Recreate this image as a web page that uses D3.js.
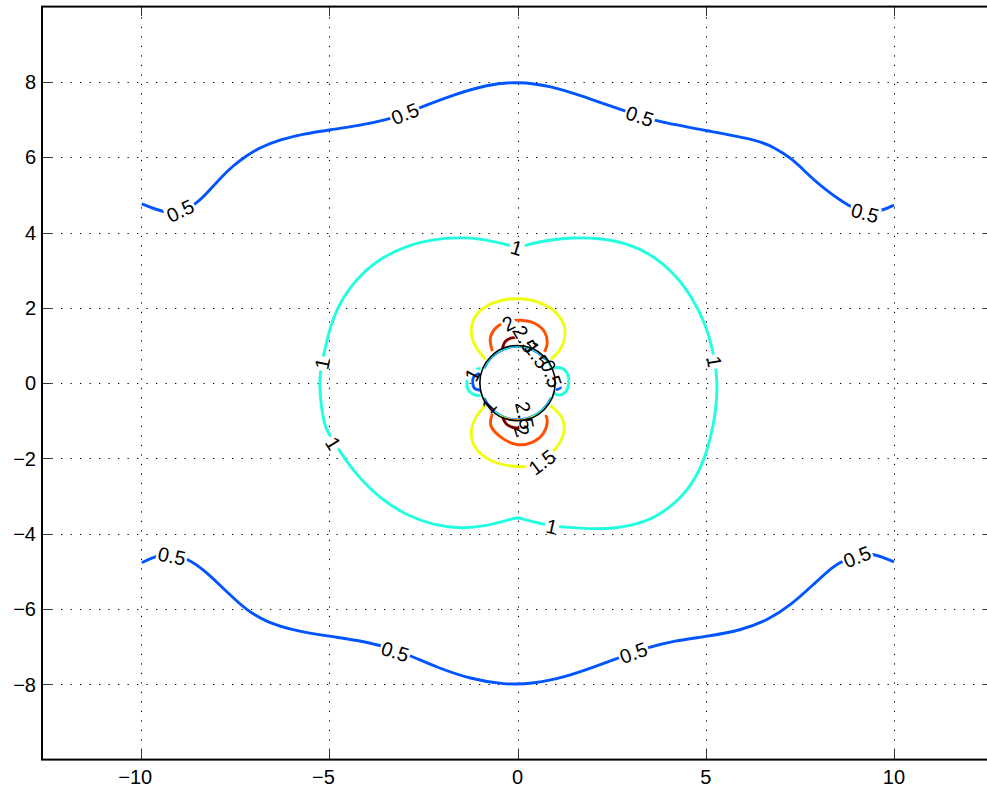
<!DOCTYPE html>
<html>
<head>
<meta charset="utf-8">
<script src="https://cdn.jsdelivr.net/npm/d3@7"></script>
<style>
  html, body { margin: 0; padding: 0; background: #fff; }
  svg { display: block; font-family: "Liberation Sans", Arial, Helvetica, sans-serif; }
</style>
</head>
<body>
<svg id="chart" width="987" height="792"></svg>
<script>
// ---- axis ticks ----
const xTicks = [-10, -5, 0, 5, 10];
const yTicks = [-8, -6, -4, -2, 0, 2, 4, 6, 8];
const xLimits = [-12.63, 12.63];
const yLimits = [-10, 10];

// ---- contour levels and their colours (jet map, 0 .. 2.5) ----
const levels = [0.5, 1, 1.5, 2, 2.5];
const levelColors = ["#0055ff", "#20ffdf", "#efff10", "#ff5000", "#800000"];

// ---- contour lines, [x, y] in data units ----
const c05Top = [[-9.98,4.76],[-9.36,4.51],[-8.96,4.55],[-8.56,4.74],[-8.25,5.04],[-7.90,5.44],[-7.55,5.78],[-7.20,6.04],[-6.84,6.26],[-6.30,6.47],[-5.68,6.62],[-4.97,6.73],[-4.18,6.84],[-3.42,7.01],[-3.00,7.15],[-2.58,7.32],[-1.69,7.66],[-0.81,7.93],[0,8.01],[0.88,7.90],[1.76,7.61],[2.87,7.22],[3.28,7.08],[3.72,6.95],[5.04,6.70],[6.37,6.46],[6.82,6.26],[7.26,5.98],[7.60,5.66],[8.06,5.22],[8.86,4.65],[9.25,4.54],[9.65,4.56],[10.0,4.73]];
const c05Bottom = [[-9.98,-4.77],[-9.58,-4.57],[-9.18,-4.56],[-8.78,-4.64],[-8.25,-5.02],[-7.72,-5.55],[-7.19,-6.04],[-6.66,-6.35],[-5.95,-6.57],[-4.97,-6.73],[-4.18,-6.84],[-3.64,-6.97],[-3.22,-7.10],[-2.80,-7.26],[-2.14,-7.55],[-1.25,-7.86],[-0.36,-8.01],[0.43,-7.99],[1.32,-7.79],[2.03,-7.54],[2.65,-7.31],[3.06,-7.17],[3.45,-7.03],[4.16,-6.84],[5.04,-6.73],[5.93,-6.57],[6.64,-6.30],[7.26,-5.90],[7.88,-5.33],[8.41,-4.84],[8.68,-4.71],[9.04,-4.57],[9.43,-4.51],[10.0,-4.75]];
const c10Outer = [[0,3.60],[0.17,3.65],[0.74,3.79],[1.45,3.87],[2.16,3.85],[2.87,3.73],[3.58,3.41],[4.20,2.88],[4.65,2.26],[5.00,1.55],[5.18,0.92],[5.28,0.30],[5.31,-0.05],[5.27,-0.76],[5.13,-1.47],[4.91,-2.18],[4.56,-2.81],[4.02,-3.34],[3.40,-3.70],[2.61,-3.87],[1.81,-3.87],[0.92,-3.80],[0.57,-3.72],[0.12,-3.61],[0,-3.56],[-0.27,-3.64],[-0.81,-3.79],[-1.52,-3.87],[-2.23,-3.77],[-2.93,-3.52],[-3.64,-3.08],[-4.26,-2.46],[-4.71,-1.83],[-4.95,-1.45],[-5.11,-1.20],[-5.22,-0.59],[-5.26,-0.05],[-5.24,0.30],[-5.15,0.74],[-4.97,1.55],[-4.66,2.26],[-4.18,2.88],[-3.56,3.37],[-2.85,3.68],[-2.23,3.82],[-1.60,3.87],[-0.98,3.84],[-0.27,3.68]];
const c10LeftLoop = [[-0.98,0.39],[-1.25,0.30],[-1.34,0.08],[-1.30,-0.19],[-1.12,-0.32],[-0.98,-0.32]];
const c10RightLoop = [[0.97,0.39],[1.14,0.41],[1.32,0.26],[1.36,0],[1.28,-0.23],[1.10,-0.32],[0.97,-0.27]];
const c05LeftLoop = [[-1.01,0.26],[-1.16,0.17],[-1.19,0],[-1.14,-0.14],[-1.0,-0.19]];
const c05RightLoop = [[1.02,0.05],[1.13,-0.02],[1.12,-0.14],[1.02,-0.17]];
const c15Top = [[-0.85,0.63],[-1.16,1.06],[-1.23,1.45],[-1.10,1.80],[-0.81,2.05],[-0.40,2.20],[0.02,2.24],[0.52,2.16],[0.97,1.92],[1.23,1.55],[1.24,1.15],[1.10,0.85],[0.88,0.63]];
const c15Bottom = [[-0.85,-0.59],[-1.12,-0.94],[-1.23,-1.38],[-1.07,-1.78],[-0.63,-2.09],[-0.10,-2.21],[0.24,-2.21],[0.60,-2.05],[1.01,-1.74],[1.23,-1.29],[1.19,-0.94],[0.88,-0.59]];
const c20Top = [[-0.67,0.85],[-0.72,1.20],[-0.56,1.48],[-0.25,1.64],[0.08,1.67],[0.45,1.59],[0.72,1.36],[0.79,1.08],[0.72,0.83]];
const c20Bottom = [[-0.67,-0.81],[-0.71,-1.12],[-0.46,-1.42],[-0.02,-1.63],[0.42,-1.56],[0.69,-1.33],[0.79,-1.03],[0.75,-0.85]];
const c25Top = [[-0.40,0.93],[-0.33,1.10],[-0.15,1.20],[0.07,1.20],[0.30,1.06]];
const c25Bottom = [[-0.40,-0.90],[-0.30,-1.08],[-0.12,-1.18],[0.05,-1.18],[0.22,-1.08]];

// far-field lines are drawn with a smoothing spline, the small ones near the body interpolate their points
const contourLines = [
  { level: 0.5, points: c05Top,       closed: false, smooth: true },
  { level: 0.5, points: c05Bottom,    closed: false, smooth: true },
  { level: 0.5, points: c05LeftLoop,  closed: false },
  { level: 0.5, points: c05RightLoop, closed: false },
  { level: 1,   points: c10Outer,     closed: true,  smooth: true },
  { level: 1,   points: c10LeftLoop,  closed: false },
  { level: 1,   points: c10RightLoop, closed: false },
  { level: 1.5, points: c15Top,       closed: false },
  { level: 1.5, points: c15Bottom,    closed: false },
  { level: 2,   points: c20Top,       closed: false },
  { level: 2,   points: c20Bottom,    closed: false },
  { level: 2.5, points: c25Top,       closed: false },
  { level: 2.5, points: c25Bottom,    closed: false }
];

// thin contour arcs squeezed along the body surface: level, radius, start/end angle (deg)
const arcLevel  = [0.5, 1,    0.5, 1,    1.5,  2];
const arcRadius = [0.955, 0.97, 0.955, 0.97, 0.98, 0.985];
const arcStart  = [24,  22,   204,  202,  240,  250];
const arcEnd    = [156, 158,  336,  338,  300,  290];

// circular body
const bodyRadius = 1;

// contour labels: level, position; rot only where the label sits off its line
const contourLabels = [
  { level: 0.5, x: -8.96, y: 4.58 },
  { level: 0.5, x: -2.99, y: 7.16 },
  { level: 0.5, x: 3.25,  y: 7.09 },
  { level: 0.5, x: 9.23,  y: 4.52 },
  { level: 0.5, x: -9.18, y: -4.59 },
  { level: 0.5, x: -3.25, y: -7.13 },
  { level: 0.5, x: 3.08,  y: -7.16 },
  { level: 0.5, x: 9.02,  y: -4.61 },
  { level: 1,   x: -0.02, y: 3.60 },
  { level: 1,   x: -5.19, y: 0.52 },
  { level: 1,   x: -4.89, y: -1.60 },
  { level: 1,   x: 5.23,  y: 0.57 },
  { level: 1,   x: 0.91,  y: -3.81 },
  { level: 1,   x: -1.20, y: 0.22,  rot: -62 },
  { level: 1,   x: -0.76, y: -0.60, rot: -48 },
  { level: 1.5, x: 0.65,  y: -2.10 },
  { level: 2,   x: -0.24, y: 1.59 },
  { level: 2.5, x: 0.20,  y: 1.17,  rot: 60 },
  { level: 1.5, x: 0.52,  y: 0.75,  rot: 55 },
  { level: 0.5, x: 0.90,  y: 0.25,  rot: 70 },
  { level: 2.5, x: 0.20,  y: -0.86, rot: 78 },
  { level: 2,   x: 0.12,  y: -1.27, rot: 72 }
];

// ---- layout ----
const W = 987, H = 792;
const x = d3.scaleLinear().domain(xLimits).range([42, 993]);
const y = d3.scaleLinear().domain(yLimits).range([759.6, 6.6]);
const fontSize = 20;

const svg = d3.select("#chart");
const defs = svg.append("defs");

defs.append("clipPath").attr("id", "plotClip")
  .append("rect")
  .attr("x", x(xLimits[0])).attr("y", y(yLimits[1]))
  .attr("width", x(xLimits[1]) - x(xLimits[0]))
  .attr("height", y(yLimits[0]) - y(yLimits[1]));

const colorOf = d3.scaleOrdinal().domain(levels).range(levelColors);

// ---- grid ----
const grid = svg.append("g").attr("clip-path", "url(#plotClip)")
  .attr("stroke", "#000").attr("stroke-width", 1).attr("stroke-dasharray", "1.3,8.2");
grid.selectAll("line.gx").data(xTicks).join("line")
  .attr("x1", d => Math.round(x(d)) + 0.5).attr("x2", d => Math.round(x(d)) + 0.5)
  .attr("y1", y(yLimits[0])).attr("y2", y(yLimits[1]));
grid.selectAll("line.gy").data(yTicks).join("line")
  .attr("y1", d => Math.round(y(d)) + 0.5).attr("y2", d => Math.round(y(d)) + 0.5)
  .attr("x1", x(xLimits[0])).attr("x2", x(xLimits[1]));

// ---- masks that open gaps in each level's lines under its labels ----
const masks = {};
levels.forEach((lv, i) => {
  const m = defs.append("mask").attr("id", "gap" + i)
    .attr("maskUnits", "userSpaceOnUse")
    .attr("x", 0).attr("y", 0).attr("width", W + 20).attr("height", H);
  m.append("rect").attr("x", 0).attr("y", 0).attr("width", W + 20).attr("height", H).attr("fill", "#fff");
  masks[lv] = m;
});

// ---- contour lines ----
const plot = svg.append("g").attr("clip-path", "url(#plotClip)");
const makeLine = curve => d3.line().x(d => x(d[0])).y(d => y(d[1])).curve(curve);
const lineSmoothOpen = makeLine(d3.curveBasis);
const lineSmoothClosed = makeLine(d3.curveBasisClosed);
const lineOpen = makeLine(d3.curveCatmullRom.alpha(0.5));
const lineClosed = makeLine(d3.curveCatmullRomClosed.alpha(0.5));

const levelGroups = {};
levels.forEach((lv, i) => {
  levelGroups[lv] = plot.append("g").attr("mask", `url(#gap${i})`)
    .attr("fill", "none").attr("stroke", colorOf(lv))
    .attr("stroke-linejoin", "round").attr("stroke-linecap", "butt");
});

const cx = x(0), cy = y(0);
const rPx = r => x(r) - x(0);

// surface-hugging arcs (thin)
arcLevel.forEach((lv, i) => {
  const p = d3.path();
  p.arc(cx, cy, rPx(arcRadius[i]), -arcStart[i] * Math.PI / 180, -arcEnd[i] * Math.PI / 180, true);
  levelGroups[lv].append("path").attr("d", p.toString()).attr("stroke-width", 1.3);
});

contourLines.forEach(c => {
  const gen = c.smooth ? (c.closed ? lineSmoothClosed : lineSmoothOpen)
                       : (c.closed ? lineClosed : lineOpen);
  levelGroups[c.level].append("path")
    .attr("d", gen(c.points))
    .attr("stroke-width", 2.9);
});

// body outline
plot.append("circle").attr("cx", cx).attr("cy", cy).attr("r", rPx(bodyRadius))
  .attr("fill", "none").attr("stroke", "#000").attr("stroke-width", 1.6);

// ---- contour labels ----
function lineAngle(lbl) {
  const px = x(lbl.x), py = y(lbl.y);
  let best = Infinity, ang = 0;
  contourLines.filter(c => c.level === lbl.level).forEach(c => {
    const pts = c.points.map(d => [x(d[0]), y(d[1])]);
    if (c.closed) pts.push(pts[0]);
    for (let k = 0; k < pts.length - 1; k++) {
      const [ax, ay] = pts[k], [bx, by] = pts[k + 1];
      const dx = bx - ax, dy = by - ay;
      const L2 = dx * dx + dy * dy || 1;
      let t = ((px - ax) * dx + (py - ay) * dy) / L2;
      t = Math.max(0, Math.min(1, t));
      const qx = ax + t * dx - px, qy = ay + t * dy - py;
      const dist = qx * qx + qy * qy;
      if (dist < best) { best = dist; ang = Math.atan2(dy, dx) * 180 / Math.PI; }
    }
  });
  if (ang > 90) ang -= 180;
  if (ang <= -90) ang += 180;
  return ang;
}

const labelLayer = svg.append("g").attr("clip-path", "url(#plotClip)");
contourLabels.forEach(lbl => {
  const rot = lbl.rot !== undefined ? lbl.rot : lineAngle(lbl);
  const px = x(lbl.x), py = y(lbl.y);
  const g = labelLayer.append("g").attr("transform", `translate(${px},${py}) rotate(${rot})`);
  const t = g.append("text")
    .attr("text-anchor", "middle").attr("dy", "0.36em")
    .attr("font-size", fontSize).attr("fill", "#000")
    .text(String(lbl.level));
  const w = t.node().getComputedTextLength() + 3;
  masks[lbl.level].append("rect")
    .attr("x", -w / 2).attr("y", -8).attr("width", w).attr("height", 16)
    .attr("fill", "#000")
    .attr("transform", `translate(${px},${py}) rotate(${rot})`);
});

// ---- axes box and ticks ----
const xl = x(xLimits[0]), xr = x(xLimits[1]), yt = y(yLimits[1]), yb = y(yLimits[0]);
const tickLen = 9.5;
const ticks = svg.append("g").attr("stroke", "#333").attr("stroke-width", 1);
xTicks.forEach(t => {
  const px = Math.round(x(t)) + 0.5;
  ticks.append("line").attr("x1", px).attr("x2", px).attr("y1", yb).attr("y2", yb - tickLen);
  ticks.append("line").attr("x1", px).attr("x2", px).attr("y1", yt).attr("y2", yt + tickLen);
});
yTicks.forEach(t => {
  const py = Math.round(y(t)) + 0.5;
  ticks.append("line").attr("y1", py).attr("y2", py).attr("x1", xl).attr("x2", xl + tickLen);
  ticks.append("line").attr("y1", py).attr("y2", py).attr("x1", xr).attr("x2", xr - tickLen);
});

svg.append("rect").attr("x", xl).attr("y", yt).attr("width", xr - xl).attr("height", yb - yt)
  .attr("fill", "none").attr("stroke", "#000").attr("stroke-width", 2);

// ---- tick labels ----
const fmt = v => (v < 0 ? "\u2212" : "") + Math.abs(v);
const tickText = svg.append("g").attr("font-size", fontSize).attr("fill", "#000");
yTicks.forEach(t => {
  tickText.append("text").attr("text-anchor", "end")
    .attr("x", xl - 6).attr("y", y(t) + 7.2).text(fmt(t));
});
xTicks.forEach(t => {
  // digits centred on the tick, minus sign hanging to the left
  const digits = tickText.append("text").attr("text-anchor", "middle")
    .attr("x", x(t)).attr("y", 784).text(String(Math.abs(t)));
  if (t < 0) {
    const w = digits.node().getComputedTextLength();
    tickText.append("text").attr("text-anchor", "end")
      .attr("x", x(t) - w / 2).attr("y", 784).text("\u2212");
  }
});
</script>
</body>
</html>
